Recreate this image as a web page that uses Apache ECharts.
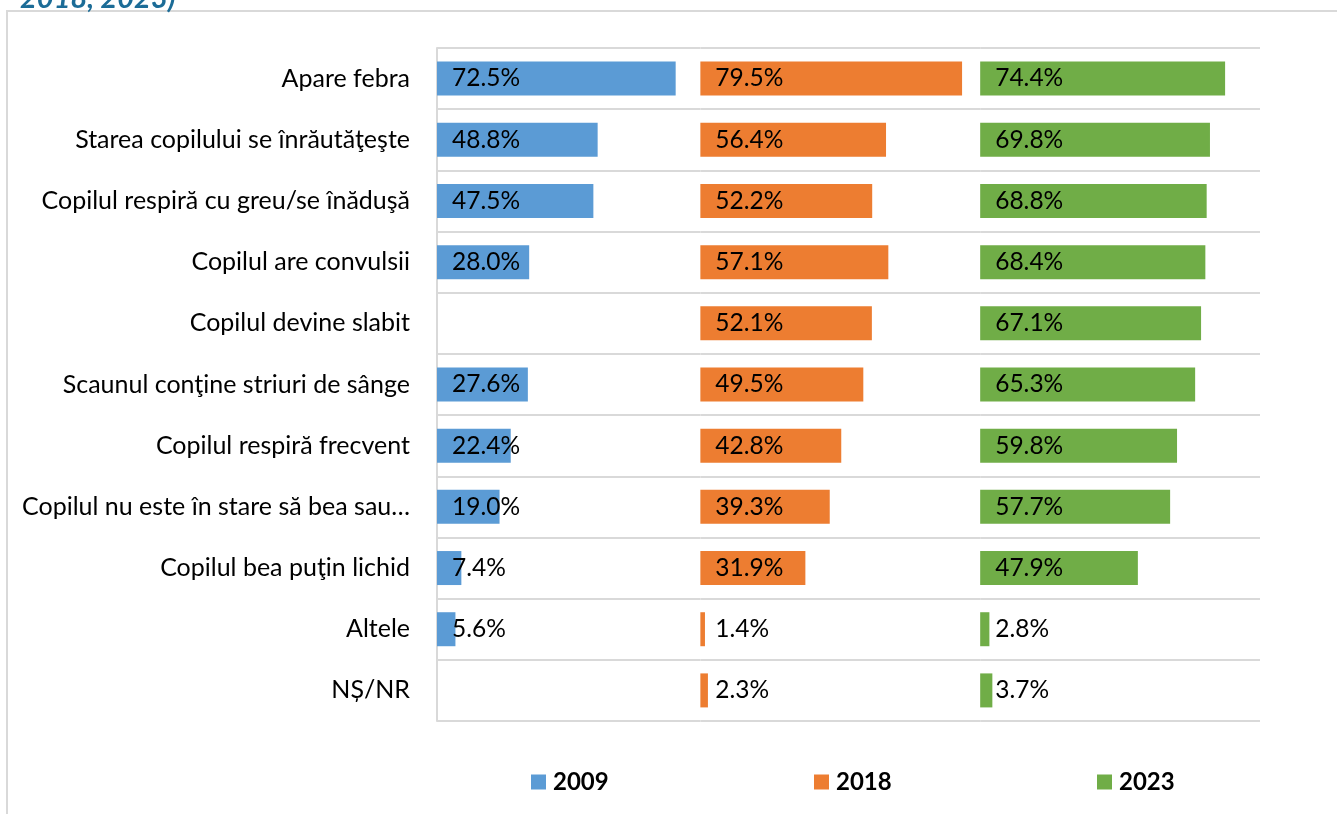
<!DOCTYPE html>
<html>
<head>
<meta charset="utf-8">
<script src="https://cdn.jsdelivr.net/npm/echarts@6/dist/echarts.min.js"></script>
<style>
  html, body { margin: 0; padding: 0; background: #ffffff; }
  #chart { width: 1337px; height: 814px; }
</style>
</head>
<body>
<div id="chart"></div>
<script>
// Semne de pericol la copil (%), pe ani
const categories = [
  'Apare febra',
  'Starea copilului se înrăutăţeşte',
  'Copilul respiră cu greu/se înăduşă',
  'Copilul are convulsii',
  'Copilul devine slabit',
  'Scaunul conţine striuri de sânge',
  'Copilul respiră frecvent',
  'Copilul nu este în stare să bea sau…',
  'Copilul bea puţin lichid',
  'Altele',
  'NȘ/NR'
];
const years = ['2009', '2018', '2023'];
const values2009 = [72.5, 48.8, 47.5, 28.0, null, 27.6, 22.4, 19.0, 7.4, 5.6, null];
const values2018 = [79.5, 56.4, 52.2, 57.1, 52.1, 49.5, 42.8, 39.3, 31.9, 1.4, 2.3];
const values2023 = [74.4, 69.8, 68.8, 68.4, 67.1, 65.3, 59.8, 57.7, 47.9, 2.8, 3.7];
// Each panel shares one percentage scale; these are the panel spans in %
const panelMax = [80, 85, 85];

const colors = ['#5B9BD5', '#ED7D31', '#70AD47'];
const FONT = 'Lato, "Noto Sans", sans-serif';
const GRID_COLOR = '#d9d9d9';

const plotLeft = 437, plotRight = 1260, plotTop = 48, plotBottom = 721;
const pxPerPct = (plotRight - plotLeft) / panelMax.reduce((a, b) => a + b, 0);

const grids = [], xAxes = [], yAxes = [], series = [], legends = [];
const allValues = [values2009, values2018, values2023];
const legendLeft = [531, 814, 1097];
let x = plotLeft;
for (let i = 0; i < 3; i++) {
  const w = panelMax[i] * pxPerPct;
  grids.push({ left: x, top: plotTop, width: w, height: plotBottom - plotTop, containLabel: false });
  x += w;
  xAxes.push({ type: 'value', gridIndex: i, min: 0, max: panelMax[i], show: false });
  yAxes.push({
    type: 'category', gridIndex: i, data: categories, inverse: true,
    axisLine: { show: i === 0, lineStyle: { color: GRID_COLOR, width: 2 } },
    axisTick: { show: false },
    axisLabel: {
      show: i === 0, color: '#000', fontFamily: FONT, fontSize: 25, margin: 27
    },
    splitLine: { show: true, lineStyle: { color: GRID_COLOR, width: 2 } }
  });
  series.push({
    name: years[i], type: 'bar', xAxisIndex: i, yAxisIndex: i,
    data: allValues[i], barWidth: 34,
    itemStyle: { color: colors[i] },
    label: {
      show: true, position: [15, '50%'], align: 'left', verticalAlign: 'middle',
      color: '#000', fontFamily: FONT, fontSize: 24.5,
      formatter: p => (p.value == null ? '' : p.value.toFixed(1) + '%')
    }
  });
  legends.push({
    data: [years[i]], left: legendLeft[i], top: 770, padding: 0,
    itemWidth: 15, itemHeight: 15, icon: 'rect', selectedMode: false,
    textStyle: { color: '#000', fontFamily: FONT, fontSize: 24, fontWeight: 'bold', padding: [0, 0, 0, 2] }
  });
}

const chart = echarts.init(document.getElementById('chart'), null, { renderer: 'canvas' });
chart.setOption({
  animation: false,
  backgroundColor: '#ffffff',
  grid: grids,
  xAxis: xAxes,
  yAxis: yAxes,
  legend: legends,
  series: series,
  graphic: [
    {
      type: 'rect', silent: true,
      shape: { x: 7, y: 11, width: 1400, height: 900 },
      style: { fill: 'none', stroke: GRID_COLOR, lineWidth: 2 }
    },
    {
      type: 'text', left: 20, top: -16, silent: true,
      style: {
        text: '2018, 2023)', fill: '#1C6C97', fontFamily: FONT,
        fontSize: 29, fontWeight: 'bold', fontStyle: 'italic'
      }
    }
  ]
});
</script>
</body>
</html>
